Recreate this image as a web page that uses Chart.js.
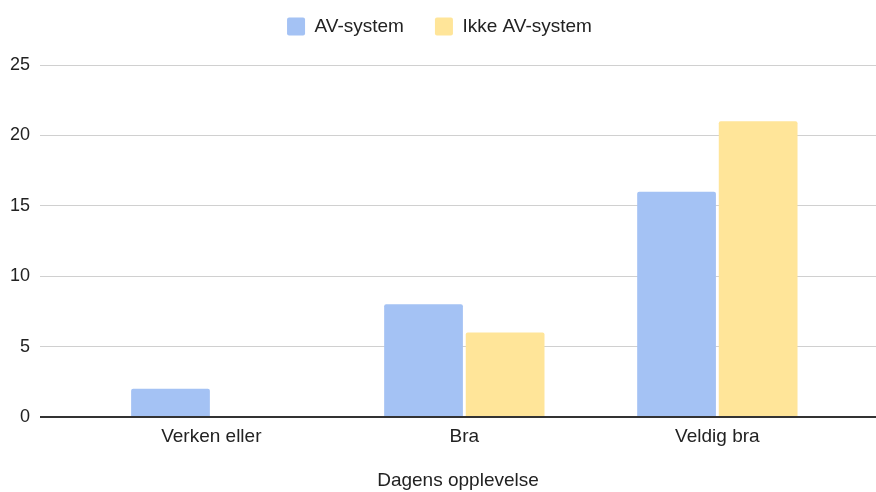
<!DOCTYPE html>
<html>
<head>
<meta charset="utf-8">
<script src="https://cdn.jsdelivr.net/npm/chart.js@4.4.1/dist/chart.umd.min.js"></script>
<style>
  html, body { margin: 0; padding: 0; background: #ffffff; }
  #wrap { width: 876px; height: 492px; position: relative; }
</style>
</head>
<body>
<div id="wrap"><canvas id="c"></canvas></div>
<script>
const categories = ["Verken eller", "Bra", "Veldig bra"];
const avSystem = [2, 8, 16];
const ikkeAvSystem = [0, 6, 21];
const yTicks = [0, 5, 10, 15, 20, 25];
const xTitle = "Dagens opplevelse";
const seriesNames = ["AV-system", "Ikke AV-system"];

const FONT = "'Liberation Sans', Arial, Helvetica, sans-serif";

const toPoints = arr => arr.map((v, i) => ({ x: i, y: v }));

const legendTweak = {
  id: 'legendTweak',
  beforeInit(chart) {
    const origFit = chart.legend.fit;
    chart.legend.fit = function () {
      origFit.call(this);
      this.height = 65;
    };
  },
  afterLayout(chart) {
    chart.legend.top = -14;
    chart.legend.left += 3;
  }
};

new Chart(document.getElementById('c'), {
  type: 'bar',
  data: {
    datasets: [
      {
        label: seriesNames[0],
        data: toPoints(avSystem),
        backgroundColor: '#a4c2f4',
        borderRadius: { topLeft: 2, topRight: 2 },
        borderSkipped: 'bottom'
      },
      {
        label: seriesNames[1],
        data: toPoints(ikkeAvSystem),
        backgroundColor: '#ffe599',
        borderRadius: { topLeft: 2, topRight: 2 },
        borderSkipped: 'bottom'
      }
    ]
  },
  plugins: [legendTweak],
  options: {
    responsive: true,
    maintainAspectRatio: false,
    animation: false,
    devicePixelRatio: 1,
    categoryPercentage: 0.645,
    barPercentage: 0.965,
    layout: { padding: 0 },
    plugins: {
      tooltip: { enabled: false },
      legend: {
        display: true,
        position: 'top',
        align: 'center',
        labels: {
          boxWidth: 18,
          boxHeight: 18,
          useBorderRadius: true,
          borderRadius: 2,
          padding: 31,
          color: '#222222',
          font: { family: FONT, size: 19 }
        }
      }
    },
    scales: {
      x: {
        type: 'linear',
        min: -0.677,
        max: 2.627,
        offset: false,
        bounds: 'data',
        grid: { display: false, offset: false, drawTicks: false, tickLength: 0 },
        border: { display: false },
        afterBuildTicks(scale) {
          scale.ticks = categories.map((c, i) => ({ value: i }));
        },
        ticks: {
          autoSkip: false,
          maxRotation: 0,
          padding: 8,
          color: '#222222',
          font: { family: FONT, size: 19 },
          callback: v => (Number.isInteger(v) && categories[v] !== undefined) ? categories[v] : ''
        },
        title: {
          display: true,
          text: xTitle,
          color: '#222222',
          font: { family: FONT, size: 19 },
          padding: { top: 0, bottom: 0 }
        },
        afterFit(scale) { scale.height = 75; }
      },
      y: {
        min: 0,
        max: 25,
        afterBuildTicks(scale) { scale.ticks = yTicks.map(v => ({ value: v })); },
        grid: {
          drawTicks: false,
          tickLength: 0,
          color: ctx => ctx.tick && ctx.tick.value === 0 ? '#333333' : '#d0d0d0',
          lineWidth: ctx => ctx.tick && ctx.tick.value === 0 ? 2 : 1
        },
        border: { display: false },
        ticks: {
          padding: 10,
          color: '#222222',
          font: { family: FONT, size: 18 }
        },
        afterFit(scale) { scale.width = 40; }
      }
    }
  }
});
</script>
</body>
</html>
